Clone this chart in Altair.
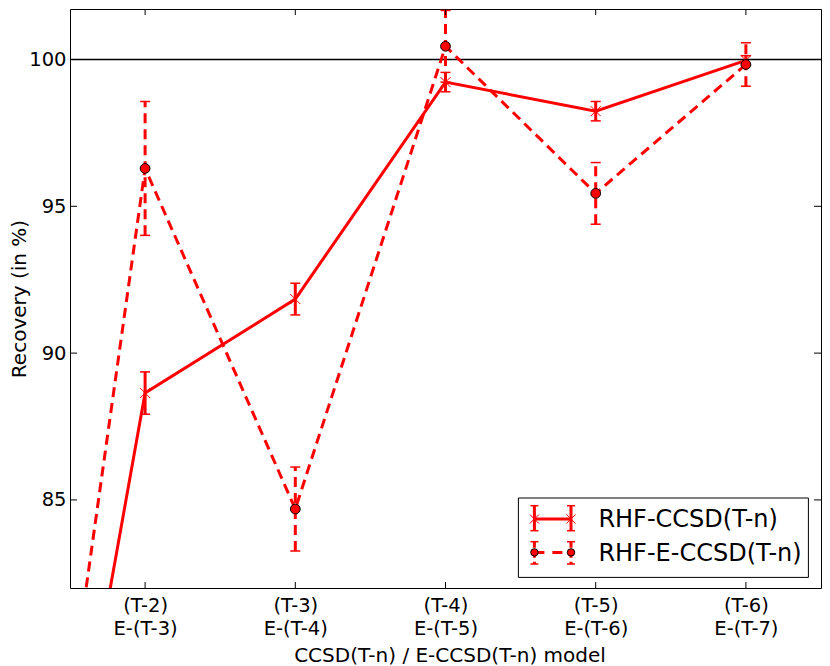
import altair as alt
import pandas as pd

# ---------------- data ----------------
positions = [0, 1, 2, 3, 4, 5]
rhf_ccsd = [60.0, 88.64, 91.84, 99.23, 98.24, 99.97]
rhf_ccsd_err = [None, 0.72, 0.54, 0.33, 0.33, 0.16]
rhf_eccsd = [59.9, 96.29, 84.69, 100.45, 95.44, 99.83]
rhf_eccsd_err = [None, 2.28, 1.43, 1.22, 1.05, 0.74]
series_names = ["RHF-CCSD(T-n)", "RHF-E-CCSD(T-n)"]
x_ticks = [1, 2, 3, 4, 5]
x_labels_top = ["(T-2)", "(T-3)", "(T-4)", "(T-5)", "(T-6)"]
x_labels_bottom = ["E-(T-3)", "E-(T-4)", "E-(T-5)", "E-(T-6)", "E-(T-7)"]
y_ticks = [85, 90, 95, 100]
reference_value = [100]

RED = "#ff0000"
FONT = "DejaVu Sans"
W, H = 751, 579
DASH = [10, 6]


def series_df(vals, errs):
    rows = []
    for x, v, e in zip(positions, vals, errs):
        rows.append({
            "x": x, "y": v,
            "lo": None if e is None else v - e,
            "hi": None if e is None else v + e,
        })
    return pd.DataFrame(rows)


def caps_df(vals, errs):
    rows = []
    for x, v, e in zip(positions, vals, errs):
        if e is None:
            continue
        rows.append({"x": x, "y": v - e})
        rows.append({"x": x, "y": v + e})
    return pd.DataFrame(rows)


df1 = series_df(rhf_ccsd, rhf_ccsd_err)
df2 = series_df(rhf_eccsd, rhf_eccsd_err)
cap1 = caps_df(rhf_ccsd, rhf_ccsd_err)
cap2 = caps_df(rhf_eccsd, rhf_eccsd_err)

top_js = "[" + ",".join("'%s'" % s for s in x_labels_top) + "]"
bot_js = "[" + ",".join("'%s'" % s for s in x_labels_bottom) + "]"
label_expr = "[%s[datum.value-1], %s[datum.value-1]]" % (top_js, bot_js)

x_scale = alt.Scale(domain=[0.5, 5.5], nice=False, zero=False)
y_scale = alt.Scale(domain=[82, 101.72], nice=False, zero=False)

x_axis = alt.Axis(
    values=x_ticks, labelExpr=label_expr, ticks=False, domain=False, grid=False,
    labelFont=FONT, labelFontSize=19.5, labelColor="black", labelBaseline="alphabetic",
    labelPadding=23, labelLineHeight=23, labelFlush=False, labelOverlap=False,
    title="CCSD(T-n) / E-CCSD(T-n) model", titleFont=FONT, titleFontSize=20,
    titleFontWeight="normal", titleColor="black", titleX=W / 2 + 4, titleY=73,
    titleBaseline="alphabetic", titleAlign="center",
)
y_axis = alt.Axis(
    values=y_ticks, ticks=False, domain=False, grid=False,
    labelFont=FONT, labelFontSize=19.5, labelColor="black", labelPadding=4,
    labelFlush=False, labelOverlap=False,
    title="Recovery (in %)", titleFont=FONT, titleFontSize=20, titleFontWeight="normal",
    titleColor="black", titleX=-61, titleY=H / 2, titleAngle=-90,
    titleBaseline="top", titleAlign="center",
)

X = alt.X("x:Q", scale=x_scale, axis=x_axis)
Y = alt.Y("y:Q", scale=y_scale, axis=y_axis)

layers = []

# reference line at 100
layers.append(
    alt.Chart(pd.DataFrame({"y": reference_value}))
    .mark_rule(color="black", strokeWidth=1.5)
    .encode(y=Y)
)

XSHAPE = "M-1,-1L1,1M-1,1L1,-1"


def series_layers(df, caps, dashed):
    extra = {"strokeDash": DASH} if dashed else {}
    out = []
    out.append(alt.Chart(df).mark_line(color=RED, strokeWidth=3, clip=True, **extra)
               .encode(x=X, y=Y))
    out.append(alt.Chart(df).mark_rule(color=RED, strokeWidth=3, clip=True, **extra)
               .encode(x=X, y=alt.Y("lo:Q", scale=y_scale, axis=y_axis), y2=alt.Y2("hi:Q")))
    out.append(alt.Chart(caps).mark_tick(color=RED, orient="horizontal", size=10,
                                         thickness=1.5, opacity=1, clip=True)
               .encode(x=X, y=Y))
    if dashed:
        out.append(alt.Chart(df).mark_circle(color=RED, size=95, opacity=1, stroke="black",
                                             strokeWidth=1, clip=True)
                   .encode(x=X, y=Y))
    else:
        out.append(alt.Chart(df).mark_point(shape=XSHAPE, filled=False, color=RED, size=100,
                                            strokeWidth=1, opacity=1, clip=True)
                   .encode(x=X, y=Y))
    return out


layers += series_layers(df1, cap1, False)
layers += series_layers(df2, cap2, True)

# inward ticks (matplotlib classic style) on all four sides
xt = pd.DataFrame({"x": x_ticks})
yt = pd.DataFrame({"y": y_ticks})
layers.append(alt.Chart(xt).mark_rule(color="black", strokeWidth=1)
              .encode(x=X, y=alt.value(H), y2=alt.value(H - 6)))
layers.append(alt.Chart(xt).mark_rule(color="black", strokeWidth=1)
              .encode(x=X, y=alt.value(0), y2=alt.value(6)))
layers.append(alt.Chart(yt).mark_rule(color="black", strokeWidth=1)
              .encode(y=Y, x=alt.value(0), x2=alt.value(7)))
layers.append(alt.Chart(yt).mark_rule(color="black", strokeWidth=1)
              .encode(y=Y, x=alt.value(W), x2=alt.value(W - 7)))

# ---------------- legend ----------------
one = pd.DataFrame({"k": [0]})
layers.append(alt.Chart(one).mark_rect(fill="white", stroke="black", strokeWidth=1)
              .encode(x=alt.value(W - 302.6), x2=alt.value(W - 12.6),
                      y=alt.value(H - 90), y2=alt.value(H - 10.6)))

gx0, gx1 = W - 286.6, W - 250.0
rows = [
    dict(name=series_names[0], cy=H - 69, ey0=H - 82.3, ey1=H - 57.3, ty=H - 60.6, dashed=False),
    dict(name=series_names[1], cy=H - 35.6, ey0=H - 46.3, ey1=H - 24, ty=H - 27.3, dashed=True),
]
for r in rows:
    extra = {"strokeDash": [10, 8]} if r["dashed"] else {}
    layers.append(alt.Chart(one).mark_rule(color=RED, strokeWidth=3, **extra)
                  .encode(x=alt.value(gx0), x2=alt.value(gx1), y=alt.value(r["cy"])))
    for gx in (gx0, gx1):
        layers.append(alt.Chart(one).mark_rule(color=RED, strokeWidth=3,
                                               **({"strokeDash": [6, 4]} if r["dashed"] else {}))
                      .encode(x=alt.value(gx), y=alt.value(r["ey0"]), y2=alt.value(r["ey1"])))
        for ey in (r["ey0"], r["ey1"]):
            layers.append(alt.Chart(one).mark_tick(color=RED, orient="horizontal", size=8,
                                                   thickness=1.5, opacity=1)
                          .encode(x=alt.value(gx), y=alt.value(ey)))
        if r["dashed"]:
            layers.append(alt.Chart(one).mark_circle(color=RED, size=55, opacity=1,
                                                     stroke="black", strokeWidth=1)
                          .encode(x=alt.value(gx), y=alt.value(r["cy"])))
        else:
            layers.append(alt.Chart(one).mark_point(shape=XSHAPE, filled=False, color=RED,
                                                    size=80, strokeWidth=1, opacity=1)
                          .encode(x=alt.value(gx), y=alt.value(r["cy"])))
    layers.append(alt.Chart(pd.DataFrame({"label": [r["name"]]}))
                  .mark_text(align="left", baseline="alphabetic", font=FONT, fontSize=24,
                             color="black")
                  .encode(x=alt.value(W - 222.6), y=alt.value(r["ty"]), text="label:N"))

chart = (
    alt.layer(*layers)
    .properties(
        width=W, height=H,
        autosize=alt.AutoSizeParams(type="none"),
        padding={"left": 62, "top": 1, "right": 1, "bottom": 78},
        background="white",
    )
    .configure_view(stroke="black", strokeWidth=1)
)

chart.save("out.html", embed_options={"renderer": "svg", "actions": False})
